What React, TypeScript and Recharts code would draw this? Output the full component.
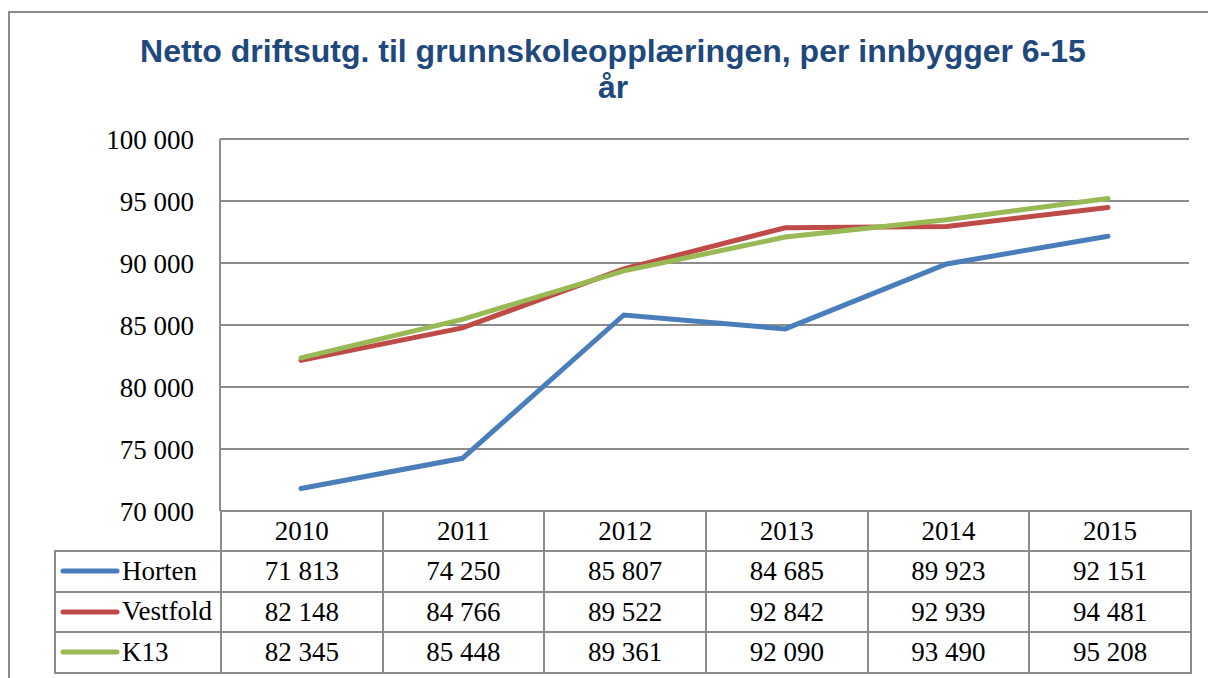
import React from 'react';
import { LineChart, Line, XAxis, YAxis, CartesianGrid } from 'recharts';

const years = ['2010', '2011', '2012', '2013', '2014', '2015'];
const horten = [71813, 74250, 85807, 84685, 89923, 92151];
const vestfold = [82148, 84766, 89522, 92842, 92939, 94481];
const k13 = [82345, 85448, 89361, 92090, 93490, 95208];
const yTicks = [70000, 75000, 80000, 85000, 90000, 95000, 100000];

const series = [
  { key: 'Horten', values: horten, color: '#4A7EBB' },
  { key: 'Vestfold', values: vestfold, color: '#BE4B48' },
  { key: 'K13', values: k13, color: '#98B954' },
];

const data = years.map((year, i) => ({
  year,
  Horten: horten[i],
  Vestfold: vestfold[i],
  K13: k13[i],
}));

const fmt = (n: number) => String(n).replace(/\B(?=(\d{3})+(?!\d))/g, ' ');

const gray = '#8C8C8C';
const serif = '"Liberation Serif", serif';
const cellBorder = `2px solid ${gray}`;

export default function App() {
  return (
    <div style={{ position: 'absolute', left: 0, top: 0, width: 1208, height: 678, overflow: 'hidden', background: '#fff' }}>
      <div style={{ position: 'absolute', left: 8, top: 11, width: 1300, height: 800, border: `2px solid ${gray}` }} />
      <div
        style={{
          position: 'absolute', left: 13, top: 33, width: 1200, textAlign: 'center',
          fontFamily: '"Liberation Sans", Arial, sans-serif', fontWeight: 'bold', fontSize: 32,
          lineHeight: '36px', color: '#1F497D',
        }}
      >
        <div>Netto driftsutg. til grunnskoleopplæringen, per innbygger 6-15</div>
        <div>år</div>
      </div>
      <div style={{ position: 'absolute', left: 0, top: 0 }}>
        <LineChart width={1208} height={678} data={data} margin={{ top: 139, right: 19, bottom: 167, left: 0 }}>
          <CartesianGrid vertical={false} stroke={gray} strokeWidth={2} />
          <XAxis dataKey="year" hide padding={{ left: 81, right: 81 }} />
          <YAxis
            width={220}
            domain={[70000, 100000]}
            ticks={yTicks}
            tickFormatter={fmt}
            tickLine={false}
            tickSize={0}
            tickMargin={26}
            axisLine={{ stroke: gray, strokeWidth: 2 }}
            tick={{ fill: '#000', fontSize: 27, fontFamily: serif }}
          />
          {series.map((s) => (
            <Line
              key={s.key}
              dataKey={s.key}
              stroke={s.color}
              strokeWidth={5}
              strokeLinecap="round"
              dot={false}
              isAnimationActive={false}
            />
          ))}
        </LineChart>
      </div>
      <table
        style={{
          position: 'absolute', left: 54, top: 510, width: 1136, borderCollapse: 'collapse',
          tableLayout: 'fixed', fontFamily: serif, fontSize: 27, color: '#000',
        }}
      >
        <colgroup>
          <col style={{ width: 166 }} />
          {years.map((y) => (
            <col key={y} style={{ width: 161.67 }} />
          ))}
        </colgroup>
        <tbody>
          <tr style={{ height: 40 }}>
            <td style={{ padding: 0, border: 'none', borderBottom: cellBorder }} />
            {years.map((y) => (
              <td key={y} style={{ padding: 0, border: cellBorder, textAlign: 'center', lineHeight: '36px' }}>
                {y}
              </td>
            ))}
          </tr>
          {series.map((s) => (
            <tr key={s.key} style={{ height: 40.5 }}>
              <td style={{ padding: 0, border: cellBorder }}>
                <div style={{ display: 'flex', alignItems: 'center', height: 38 }}>
                  <svg width={66} height={10} style={{ flex: 'none' }}>
                    <line x1={7} y1={5} x2={61} y2={5} stroke={s.color} strokeWidth={5} strokeLinecap="round" />
                  </svg>
                  <span>{s.key}</span>
                </div>
              </td>
              {s.values.map((v, i) => (
                <td key={i} style={{ padding: 0, border: cellBorder, textAlign: 'center', lineHeight: '36px' }}>
                  {fmt(v)}
                </td>
              ))}
            </tr>
          ))}
        </tbody>
      </table>
    </div>
  );
}
